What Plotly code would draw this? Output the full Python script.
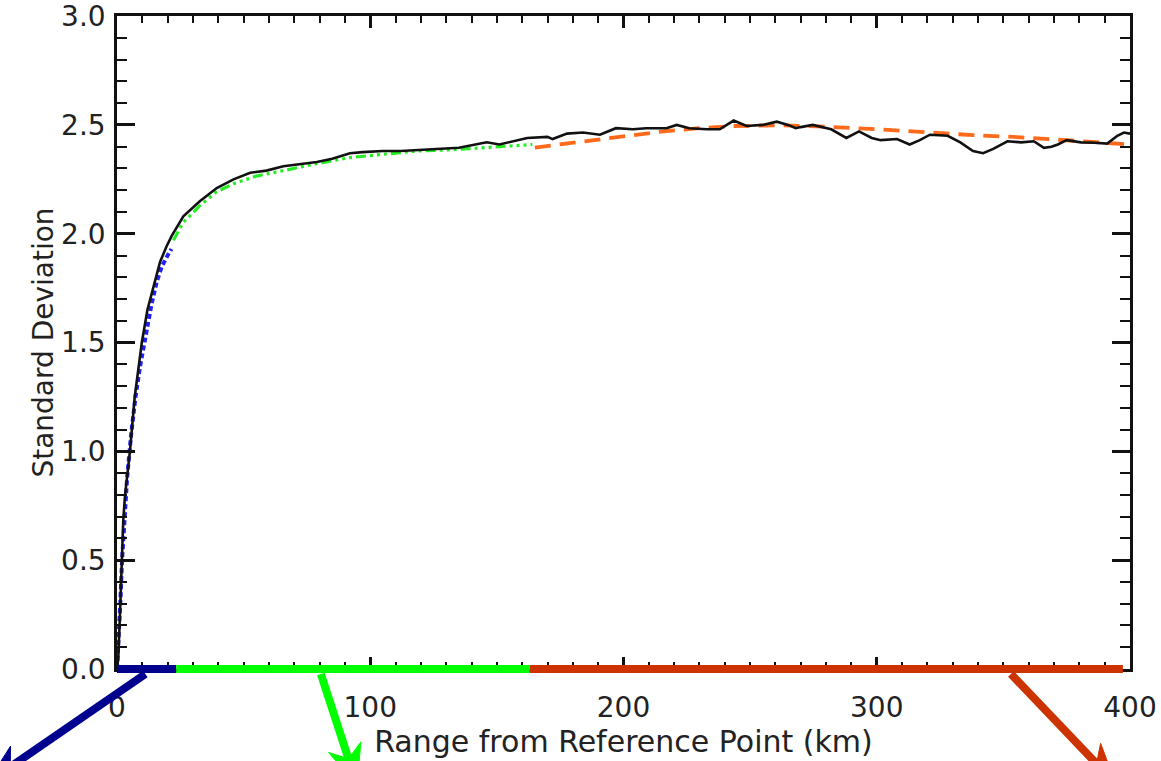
import math
import plotly.graph_objects as go

# ---- data ----
obs_km = [0, 0.5, 1.2, 1.8, 2.5, 3.2, 3.8, 5.1, 7.0, 9.8, 12.0, 14.4, 17.0, 19.5, 21.6,
          26.2, 32.8, 39.4, 46.0, 52.6, 59.0, 65.7, 72.0, 78.9, 85.0, 89.4, 92.0, 97.0,
          105.0, 112.0, 126.0, 135.0, 146.0, 151.0, 162.0, 170.0, 172.0, 177.7, 184.0,
          190.7, 197.0, 203.7, 209.0, 217.0, 221.0, 226.0, 233.0, 238.0, 243.5, 248.6,
          255.0, 260.5, 265.0, 268.0, 270.0, 274.7, 282.0, 288.0, 293.0, 298.0, 301.6,
          308.0, 313.0, 317.0, 321.0, 328.0, 333.0, 338.0, 342.0, 346.0, 351.6, 357.0,
          362.0, 366.0, 369.0, 371.5, 375.0, 380.6, 386.0, 391.0, 395.0, 397.6, 400.0]
obs_std = [0.0, 0.05, 0.26, 0.50, 0.69, 0.80, 0.86, 1.00, 1.25, 1.50, 1.65, 1.76, 1.87, 1.94, 1.99,
           2.08, 2.15, 2.21, 2.25, 2.28, 2.29, 2.31, 2.32, 2.33, 2.345, 2.36, 2.37, 2.375,
           2.38, 2.38, 2.39, 2.395, 2.42, 2.41, 2.44, 2.445, 2.435, 2.46, 2.465,
           2.455, 2.485, 2.48, 2.485, 2.485, 2.50, 2.485, 2.48, 2.48, 2.52, 2.495,
           2.50, 2.515, 2.50, 2.485, 2.49, 2.50, 2.48, 2.44, 2.47, 2.44, 2.43,
           2.435, 2.41, 2.43, 2.455, 2.45, 2.42, 2.38, 2.37, 2.39, 2.425, 2.42,
           2.425, 2.395, 2.40, 2.41, 2.43, 2.42, 2.418, 2.414, 2.45, 2.465, 2.46]

blue_km = [0, 0.4, 1.3, 2.0, 3.0, 4.0, 5.6, 7.3, 9.1, 11.1, 13.7, 15.7, 17.7, 20.2, 21.5]
blue_std = [0.0, 0.08, 0.30, 0.50, 0.70, 0.88, 1.08, 1.25, 1.39, 1.52, 1.68, 1.78, 1.85, 1.905, 1.93]

green_km = [22.3, 26.0, 32.8, 39.0, 46.0, 55.0, 65.7, 78.0, 92.0, 105.0, 118.5, 131.0, 144.8, 155.0, 164.0]
green_std = [1.97, 2.05, 2.13, 2.19, 2.23, 2.265, 2.29, 2.32, 2.35, 2.365, 2.38, 2.385, 2.395, 2.40, 2.41]

orange_km = [165, 178, 191, 204, 217, 230, 243, 263, 280, 300, 321, 338, 354, 370, 385, 400]
orange_std = [2.396, 2.416, 2.434, 2.453, 2.472, 2.485, 2.495, 2.498, 2.492, 2.48, 2.464,
              2.453, 2.445, 2.435, 2.422, 2.41]

# range segments marked along the x axis
seg_start = [-1.9, 23.4, 163.0]
seg_end = [23.4, 163.0, 397.2]
seg_colors = ["#00008f", "#00ff00", "#cc3300"]

# arrows leaving each segment: tail position (km), direction (px) and length (px)
arrow_tail_km = [11.2, 80.5, 353.0]
arrow_dir = [(-125, 86), (28, 86), (83, 87)]
arrow_len = [192, 117, 152]

x_ticks = [0, 100, 200, 300, 400]
y_ticks = [0.0, 0.5, 1.0, 1.5, 2.0, 2.5, 3.0]

FONT = "DejaVu Sans"
W, H = 1161, 761
ML, MR, MT, MB = 117, 31, 16, 92
X_RANGE = [0, 400]
PW, PH = W - ML - MR, H - MT - MB


def to_paper(px, py):
    return (px - ML) / PW, (H - MB - py) / PH


fig = go.Figure()
fig.add_trace(go.Scatter(x=blue_km, y=blue_std, mode="lines",
                         line=dict(color="#1f1fff", width=4, dash="5px,3px"), showlegend=False))
fig.add_trace(go.Scatter(x=green_km, y=green_std, mode="lines",
                         line=dict(color="#22ee22", width=3.2,
                                   dash="10px,4px,3px,4px,3px,4px,3px,4px"), showlegend=False))
fig.add_trace(go.Scatter(x=orange_km, y=orange_std, mode="lines",
                         line=dict(color="#ff6a1a", width=3.8, dash="16px,9px"), showlegend=False))
fig.add_trace(go.Scatter(x=obs_km, y=obs_std, mode="lines",
                         line=dict(color="#111111", width=2.6), showlegend=False))

for s, e, c in zip(seg_start, seg_end, seg_colors):
    fig.add_shape(type="line", xref="x", yref="paper", x0=s, x1=e, y0=0, y1=0,
                  line=dict(color=c, width=8), layer="above")

# arrows drawn as paper-space shapes (so they may run off the page like the original)
HEAD_L, NOTCH_L, HEAD_W = 40, 28, 17
for km, (dx, dy), L, c in zip(arrow_tail_km, arrow_dir, arrow_len, seg_colors):
    tx = ML + (km - X_RANGE[0]) / (X_RANGE[1] - X_RANGE[0]) * PW
    ty = H - MB + 5
    n = math.hypot(dx, dy)
    ux, uy = dx / n, dy / n
    vx, vy = -uy, ux
    tipx, tipy = tx + L * ux, ty + L * uy
    notchx, notchy = tipx - NOTCH_L * ux, tipy - NOTCH_L * uy
    bx, by = tipx - HEAD_L * ux, tipy - HEAD_L * uy
    b1 = (bx + HEAD_W * vx, by + HEAD_W * vy)
    b2 = (bx - HEAD_W * vx, by - HEAD_W * vy)
    p0 = to_paper(tx, ty)
    p1 = to_paper(notchx + 3 * ux, notchy + 3 * uy)
    fig.add_shape(type="line", xref="paper", yref="paper",
                  x0=p0[0], y0=p0[1], x1=p1[0], y1=p1[1],
                  line=dict(color=c, width=8), layer="above")
    pts = [to_paper(tipx, tipy), to_paper(*b1), to_paper(notchx, notchy), to_paper(*b2)]
    path = "M " + " L ".join(f"{a:.5f},{b:.5f}" for a, b in pts) + " Z"
    fig.add_shape(type="path", xref="paper", yref="paper", path=path,
                  fillcolor=c, line=dict(color=c, width=1), layer="above")

fig.update_layout(
    width=W, height=H,
    margin=dict(l=ML, r=MR, t=MT, b=MB, autoexpand=False),
    paper_bgcolor="white", plot_bgcolor="white",
    font=dict(family=FONT, size=28, color="#222222"),
)
fig.update_xaxes(
    range=X_RANGE, tickvals=x_ticks, ticktext=[str(v) for v in x_ticks],
    ticks="inside", ticklen=12, tickwidth=2.5, tickcolor="#111",
    minor=dict(dtick=10, ticks="inside", ticklen=7, tickwidth=2, tickcolor="#111"),
    showline=True, linewidth=2.5, linecolor="#111", mirror="ticks",
    showgrid=False, zeroline=False, ticklabelstandoff=12, ticklabeloverflow="allow",
    automargin=False,
    tickfont=dict(family=FONT, size=28),
    title=dict(text="Range from Reference Point (km)", font=dict(family=FONT, size=30), standoff=4),
)
fig.update_yaxes(
    range=[0, 3.0005], tickvals=y_ticks, ticktext=["%.1f" % v for v in y_ticks],
    ticks="inside", ticklen=18, tickwidth=2.5, tickcolor="#111",
    minor=dict(dtick=0.1, ticks="inside", ticklen=10, tickwidth=2, tickcolor="#111"),
    showline=True, linewidth=2.5, linecolor="#111", mirror="ticks",
    showgrid=False, zeroline=False, ticklabelstandoff=3, ticklabeloverflow="allow",
    automargin=False,
    tickfont=dict(family=FONT, size=28),
    title=dict(text="Standard Deviation", font=dict(family=FONT, size=28), standoff=0),
)

fig.write_html("out.html")
